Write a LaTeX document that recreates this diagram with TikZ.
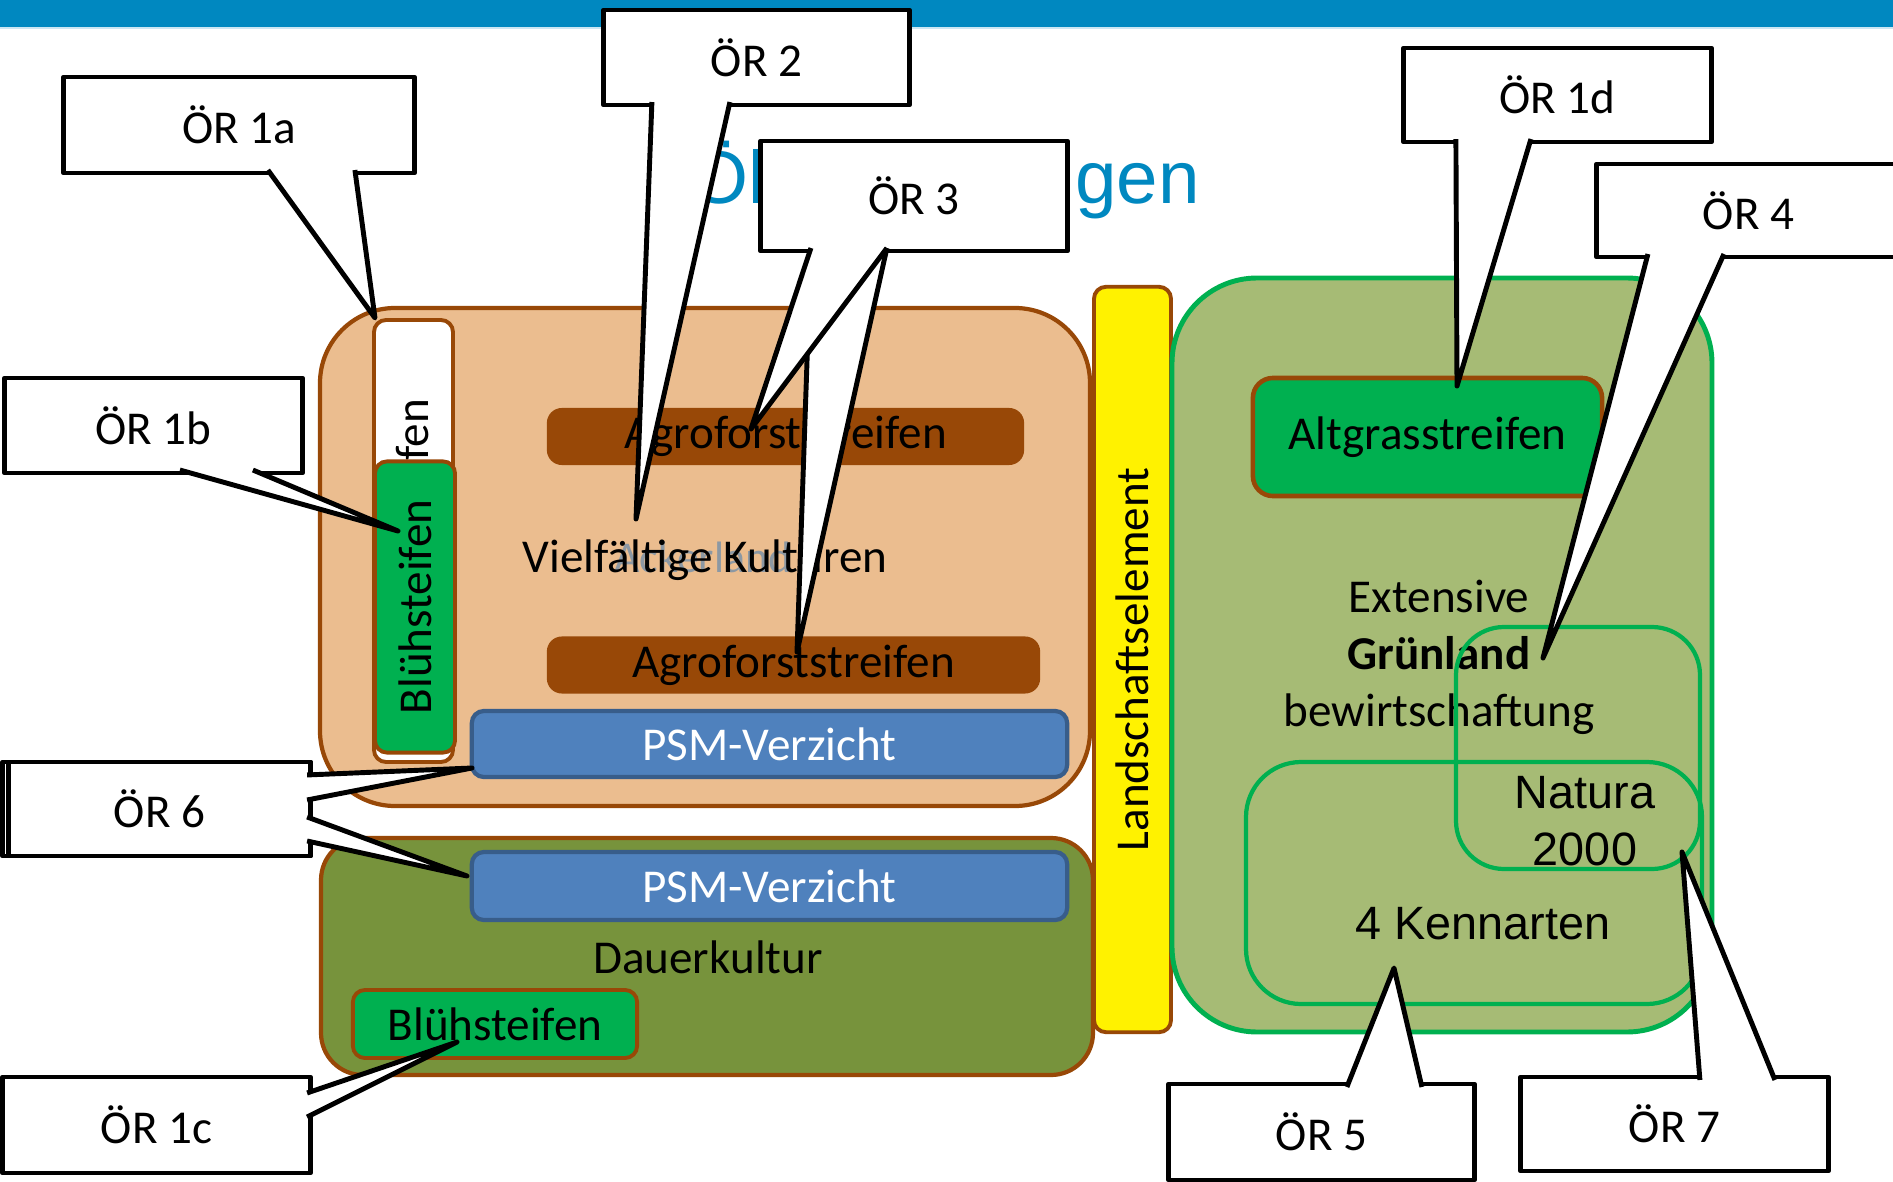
\documentclass[tikz,border=0pt]{standalone}
\usepackage{fontspec}
\setmainfont{Carlito}
\newfontfamily\arialfont{Liberation Sans}
\usetikzlibrary{calc}
\definecolor{barblue}{RGB}{0,136,192}
\definecolor{peach}{RGB}{235,189,143}
\definecolor{brownline}{RGB}{152,72,7}
\definecolor{olive}{RGB}{119,147,60}
\definecolor{olivelight}{RGB}{166,187,117}
\definecolor{stripgreen}{RGB}{0,176,80}
\definecolor{psmblue}{RGB}{79,129,189}
\definecolor{psmline}{RGB}{56,93,138}
\definecolor{greytext}{RGB}{140,152,163}

\begin{document}
\begin{tikzpicture}[
    x=0.01cm,
    y=-0.01cm,
    every node/.style={font=\fontsize{13.4}{16.2}\selectfont, inner sep=0pt, outer sep=0pt},
    callbox/.style={draw, line width=1.4pt, fill=white, line join=round},
    pointer/.style={draw, line width=1.4pt, fill=white, line join=round},
    fieldarea/.style={draw=brownline, line width=1.2pt},
    strip/.style={draw=brownline, line width=1.1pt, rounded corners=0.12cm},
    greenbox/.style={strip, fill=stripgreen},
    agro/.style={fill=brownline, rounded corners=0.15cm, minimum height=0.57cm},
    psm/.style={draw=psmline, line width=1.2pt, fill=psmblue, rounded corners=0.12cm, text=white, minimum width=5.95cm},
    innerframe/.style={draw=stripgreen, line width=1.2pt},
    arial/.style={font=\arialfont\fontsize{13.3}{16.2}\selectfont},
    title/.style={anchor=base west, text=barblue, font=\arialfont\fontsize{21.2}{25}\selectfont}
]
    \useasboundingbox (0,0) rectangle (1893,1182);
    \fill[white] (0,0) rectangle (1893,1182);
    \fill[barblue] (0,0) rectangle (1893,27);
    \fill[barblue!20] (0,27) rectangle (1893,29);
    \node[title] (titel) at (690,204) {Ökoregelungen};

    \draw[fieldarea, fill=peach, rounded corners=0.75cm] (320,308) rectangle (1090,806);
    \draw[strip, fill=white] (374,320) rectangle (453,762);
    \node[rotate=90] (fen) at (413,430) {fen};
    \node[greenbox, rotate=90, minimum width=2.91cm, minimum height=0.80cm] (blueh1) at (415,607) {Blühsteifen};
    \node[agro, minimum width=4.77cm] (agro1) at (785.5,436.5) {Agroforststreifen};
    \node[agro, minimum width=4.93cm] (agro2) at (793.5,665) {Agroforststreifen};
    \node[anchor=base, text=greytext, font=\fontsize{12.5}{15}\selectfont] (ackerland) at (703,572) {Ackerland};
    \node[anchor=base] (vielfalt) at (705,572) {Vielfältige Kulturen};
    \node[psm, minimum height=0.66cm] (psm1) at (769.5,744) {PSM-Verzicht};

    \draw[fieldarea, fill=olive, rounded corners=0.42cm] (321,838) rectangle (1093,1075);
    \node[psm, minimum height=0.68cm] (psm2) at (769.5,886) {PSM-Verzicht};
    \node (dauerkultur) at (708,957) {Dauerkultur};
    \node[greenbox, minimum width=2.84cm, minimum height=0.68cm] (blueh2) at (495,1024) {Blühsteifen};

    \node[strip, fill=yellow, rotate=90, minimum width=7.45cm, minimum height=0.77cm] (landschaft) at (1132.5,659.5) {Landschaftselement};

    \draw[draw=stripgreen, line width=1.4pt, fill=olivelight, rounded corners=0.85cm] (1172,278) rectangle (1712,1032);
    \node[greenbox, line width=1.3pt, rounded corners=0.2cm, minimum width=3.49cm, minimum height=1.18cm] (altgras) at (1427.5,437) {Altgrasstreifen};
    \node[align=center] (extensiv) at (1439,657) {Extensive\\\textbf{Grünland}\\bewirtschaftung};
    \draw[innerframe, rounded corners=0.55cm] (1246,762) rectangle (1702,1004);
    \draw[innerframe, rounded corners=0.48cm] (1456,627) rectangle (1700,869);
    \node[arial, align=center] (natura) at (1585,821) {Natura\\2000};
    \node[arial] (kennarten) at (1483,924) {4 Kennarten};

    \node[callbox, minimum width=3.50cm, minimum height=0.96cm] (or1a) at (239,125) {ÖR 1a};
    \coordinate (t1a) at (375,318);
    \draw[pointer] ($(or1a.south west)+(204,-3)$) -- (t1a) -- ($(or1a.south west)+(291,-3)$);

    \node[callbox, minimum width=2.97cm, minimum height=0.95cm] (or1b) at (153.5,425.5) {ÖR 1b};
    \coordinate (t1b) at (398,531);
    \draw[pointer] ($(or1b.south west)+(175,-3)$) -- (t1b) -- ($(or1b.south west)+(248,-3)$);

    \node[callbox, minimum width=3.05cm, minimum height=0.95cm] (or2) at (756.5,57.5) {ÖR 2};
    \coordinate (t2) at (636,519);
    \draw[pointer] ($(or2.south west)+(48,-3)$) -- (t2) -- ($(or2.south west)+(126,-3)$);

    \node[callbox, minimum width=3.06cm, minimum height=1.10cm] (or3) at (914,196) {ÖR 3};
    \coordinate (t3a) at (751,429);
    \coordinate (t3b) at (797,652);
    \draw[pointer] ($(or3.south west)+(50,-3)$) -- (t3b) -- ($(or3.south west)+(126,-3)$);
    \draw[pointer] ($(or3.south west)+(50,-3)$) -- (t3a) -- ($(or3.south west)+(126,-3)$);

    \node[callbox, minimum width=3.07cm, minimum height=0.94cm] (or1d) at (1557.5,95) {ÖR 1d};
    \coordinate (t1d) at (1457,386);
    \draw[pointer] ($(or1d.south west)+(52,-3)$) -- (t1d) -- ($(or1d.south west)+(127,-3)$);

    \node[callbox, minimum width=3.03cm, minimum height=0.93cm] (or4) at (1748.5,210.5) {ÖR 4};
    \coordinate (t4) at (1543,658);
    \draw[pointer] ($(or4.south west)+(51,-3)$) -- (t4) -- ($(or4.south west)+(127,-3)$);

    \node[callbox, minimum width=3.05cm, minimum height=0.96cm] (or5) at (1321.5,1132) {ÖR 5};
    \coordinate (t5) at (1394,968);
    \draw[pointer] ($(or5.north west)+(178,3)$) -- (t5) -- ($(or5.north west)+(253,3)$);

    \node[callbox, minimum width=3.07cm, minimum height=0.94cm] (or7) at (1674.5,1124) {ÖR 7};
    \coordinate (t7) at (1682,852);
    \draw[pointer] ($(or7.north west)+(179,3)$) -- (t7) -- ($(or7.north west)+(254,3)$);

    \node[callbox, minimum width=3.07cm, minimum height=0.94cm] (or6b) at (156.5,809) {};
    \node[callbox, minimum width=3.01cm, minimum height=0.94cm] (or6a) at (159.5,809) {ÖR 6};
    \coordinate (t6a) at (472,768);
    \coordinate (t6b) at (467,876);
    \draw[pointer] ($(or6a.north east)+(-3,13)$) -- (t6a) -- ($(or6a.north east)+(-3,38)$);
    \draw[pointer] ($(or6b.north east)+(-3,55)$) -- (t6b) -- ($(or6b.north east)+(-3,79)$);

    \node[callbox, minimum width=3.07cm, minimum height=0.96cm] (or1c) at (156.5,1125) {ÖR 1c};
    \coordinate (t1c) at (457,1042);
    \draw[pointer] ($(or1c.north east)+(-3,16)$) -- (t1c) -- ($(or1c.north east)+(-3,40)$);
\end{tikzpicture}
\end{document}
